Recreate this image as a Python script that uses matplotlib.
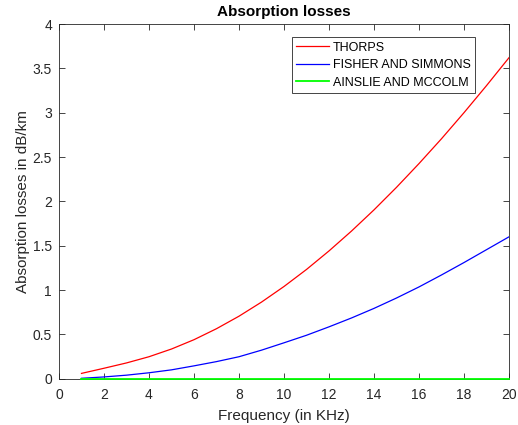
import numpy as np
import matplotlib
matplotlib.use('Agg')
import matplotlib.pyplot as plt

plt.rcParams['font.family'] = ['Liberation Sans', 'DejaVu Sans']

# frequency in kHz and absorption (dB/km)
freq = [1, 2, 3, 4, 5, 6, 7, 8, 9, 10, 11, 12, 13, 14, 15, 16, 17, 18, 19, 20]
thorp = [0.06, 0.118, 0.178, 0.248, 0.335, 0.44, 0.564, 0.705, 0.864, 1.04,
         1.232, 1.441, 1.665, 1.904, 2.158, 2.426, 2.706, 3.0, 3.305, 3.62]
fisher = [0.005, 0.02, 0.04, 0.067, 0.10, 0.145, 0.193, 0.248, 0.322, 0.405,
          0.49, 0.585, 0.685, 0.793, 0.91, 1.035, 1.17, 1.31, 1.455, 1.60]
ainslie = [0.0, 0.0, 0.0, 0.0, 0.0, 0.0, 0.0, 0.0, 0.0, 0.0,
           0.0, 0.0, 0.0, 0.0, 0.0, 0.0, 0.0, 0.0, 0.0, 0.0]

xticks = [0, 2, 4, 6, 8, 10, 12, 14, 16, 18, 20]
yticks = [0, 0.5, 1, 1.5, 2, 2.5, 3, 3.5, 4]
ytick_labels = ['0', '0.5', '1', '1.5', '2', '2.5', '3', '3.5', '4']

fig = plt.figure(figsize=(5.18, 4.25), dpi=100)
ax = fig.add_axes([0.1139, 0.1089, 0.8687, 0.8346])

ax.plot(freq, thorp, color='#ff0000', lw=0.9, label='THORPS')
ax.plot(freq, fisher, color='#0000ff', lw=0.9, label='FISHER AND SIMMONS')
ax.plot(freq, ainslie, color='#00ff00', lw=1.3, label='AINSLIE AND MCCOLM', clip_on=False, zorder=5)

ax.set_xlim(0, 20)
ax.set_ylim(0, 4)
ax.set_xticks(xticks)
ax.set_yticks(yticks)
ax.set_yticklabels(ytick_labels)

gray = '#262626'
for s in ax.spines.values():
    s.set_color(gray)
    s.set_linewidth(0.6)
ax.tick_params(direction='in', length=4, width=0.6, color=gray, labelcolor=gray,
               labelsize=10, top=True, right=True)
ax.tick_params(axis='x', pad=7)
ax.tick_params(axis='y', pad=5)

ax.set_xlabel('Frequency (in KHz)', fontsize=11, color=gray, labelpad=5)
ax.set_ylabel('Absorption losses in dB/km', fontsize=11, color=gray, labelpad=2)
ax.set_title('Absorption losses', fontsize=11, fontweight='bold', pad=6)

leg = ax.legend(loc='upper left', bbox_to_anchor=(0.518, 0.963), fontsize=9,
                fancybox=False, framealpha=1, edgecolor=gray, handlelength=2.6,
                handletextpad=0.3, borderpad=0.35, labelspacing=0.45,
                borderaxespad=0)
leg.get_frame().set_linewidth(0.6)

plt.savefig('out.png', dpi=100)
